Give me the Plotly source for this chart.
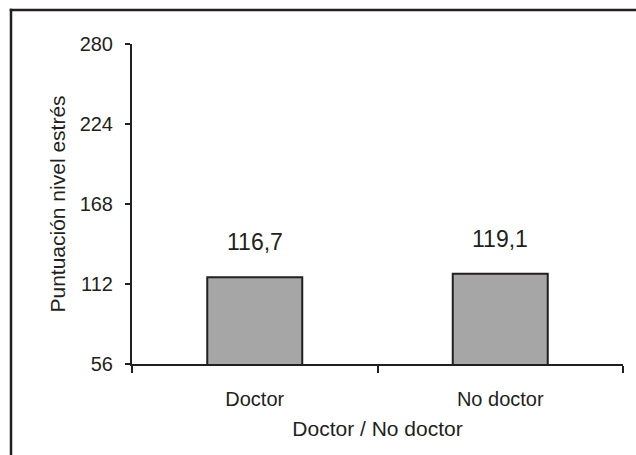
import plotly.graph_objects as go

categories = ["Doctor", "No doctor"]
scores = [116.7, 119.1]
score_labels = ["116,7", "119,1"]
y_ticks = [56, 112, 168, 224, 280]

INK = "#231f20"
FONT = "Liberation Sans, Arial, sans-serif"

# plot area in pixels: x 132..623, y 44..364
PX_L, PX_W, PX_B, PX_H = 132, 491, 364, 320


def px_x(px):
    return (px - PX_L) / PX_W


def px_y(py):
    return (PX_B - py) / PX_H


fig = go.Figure()
fig.add_trace(go.Bar(
    x=categories,
    y=scores,
    marker=dict(color="#a6a6a6", line=dict(color=INK, width=2)),
    showlegend=False,
))

for cat, val, lab in zip(categories, scores, score_labels):
    fig.add_annotation(
        x=cat, y=val, text=lab, showarrow=False,
        yanchor="middle", yshift=35,
        font=dict(family=FONT, size=23, color=INK),
    )

# outer frame of the figure (left and top edges)
frame = dict(color=INK, width=2.5)
fig.add_shape(type="line", xref="paper", yref="paper",
              x0=px_x(11), x1=px_x(11), y0=px_y(470), y1=px_y(8.75),
              line=frame, layer="above")
fig.add_shape(type="line", xref="paper", yref="paper",
              x0=px_x(9.75), x1=px_x(640), y0=px_y(10), y1=px_y(10),
              line=frame, layer="above")

fig.update_layout(
    width=636, height=455,
    margin=dict(l=132, r=13, t=44, b=91),
    paper_bgcolor="white", plot_bgcolor="white",
    bargap=0.613,
    font=dict(family=FONT, color=INK),
    xaxis=dict(
        type="category",
        range=[-0.5, 1.5],
        showline=True, linecolor=INK, linewidth=2,
        ticks="outside", tickson="boundaries", ticklen=7, tickwidth=2, tickcolor=INK,
        ticklabelstandoff=16,
        tickfont=dict(size=20, family=FONT, color=INK),
        showgrid=False, zeroline=False,
        title=dict(text="Doctor / No doctor", font=dict(size=21, family=FONT, color=INK), standoff=12),
        automargin=False,
    ),
    yaxis=dict(
        range=[56, 280],
        tickvals=y_ticks,
        ticktext=[str(v) for v in y_ticks],
        showline=True, linecolor=INK, linewidth=2,
        ticks="outside", ticklen=5, tickwidth=2, tickcolor=INK,
        ticklabelstandoff=8,
        tickfont=dict(size=20, family=FONT, color=INK),
        showgrid=False, zeroline=False,
        title=dict(text="Puntuación nivel estrés", font=dict(size=21, family=FONT, color=INK), standoff=8),
        automargin=False,
    ),
)

fig.write_html("out.html")
